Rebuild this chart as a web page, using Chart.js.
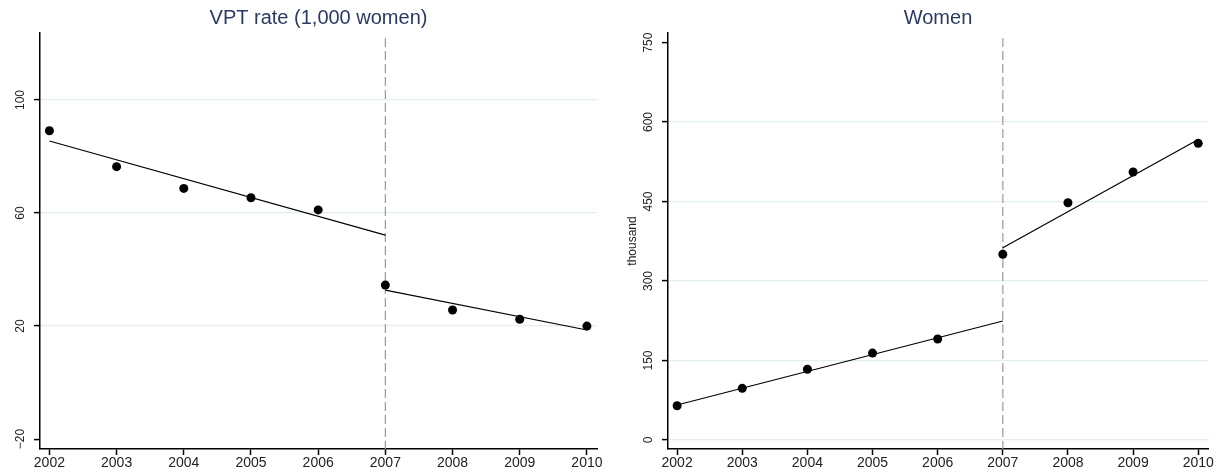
<!DOCTYPE html>
<html>
<head>
<meta charset="utf-8">
<script src="https://cdn.jsdelivr.net/npm/chart.js@4.4.1/dist/chart.umd.min.js"></script>
<style>
  body { margin: 0; background: #fff; }
  #left { position: absolute; left: 0; top: 0; }
  #right { position: absolute; left: 608px; top: 0; }
</style>
</head>
<body>
<canvas id="left" width="608" height="473"></canvas>
<canvas id="right" width="609" height="473"></canvas>
<script>
const years = [2002, 2003, 2004, 2005, 2006, 2007, 2008, 2009, 2010];
const cutoffYear = 2007;
const preYears = [2002, 2007];
const postYears = [2007, 2010];

// VPT rate per 1,000 women
const vptRate = [89.1, 76.4, 68.7, 65.4, 61.1, 34.5, 25.7, 22.4, 20.0];
const vptFitPre = [85.5, 52.2];
const vptFitPost = [32.7, 18.6];
const vptTicks = [-20, 20, 60, 100];

// women, thousand
const women = [64.7, 97.5, 133.4, 164.0, 190.6, 350.4, 447.7, 505.7, 559.8];
const womenFitPre = [66.0, 224.5];
const womenFitPost = [362.8, 567.0];
const womenTicks = [0, 150, 300, 450, 600, 750];

Chart.defaults.font.family = "'Liberation Sans', Arial, sans-serif";
Chart.defaults.color = '#222';

const gridColor = 'rgb(226, 238, 244)';

function pairs(xs, ys) {
    return xs.map((x, i) => ({x: x, y: ys[i]}));
}

// y tick labels are rotated (read bottom to top)
const rotatedYLabels = {
    id: 'rotatedYLabels',
    afterDraw(chart) {
        const s = chart.scales.y;
        const ctx = chart.ctx;
        ctx.save();
        ctx.font = "12px 'Liberation Sans', Arial, sans-serif";
        ctx.fillStyle = '#222';
        ctx.textAlign = 'center';
        ctx.textBaseline = 'middle';
        s.ticks.forEach(t => {
            ctx.save();
            ctx.translate(s.right - 19, s.getPixelForValue(t.value));
            ctx.rotate(-Math.PI / 2);
            ctx.fillText(String(t.value).replace('-', '\u2212'), 0, 0);
            ctx.restore();
        });
        ctx.restore();
    }
};

const cutoffLine = {
    id: 'cutoffLine',
    beforeDatasetsDraw(chart) {
        const x = chart.scales.x.getPixelForValue(cutoffYear);
        const area = chart.chartArea;
        const ctx = chart.ctx;
        ctx.save();
        ctx.strokeStyle = '#9a9a9a';
        ctx.lineWidth = 1.2;
        ctx.setLineDash([9, 4]);
        ctx.beginPath();
        ctx.moveTo(x, area.top + 5);
        ctx.lineTo(x, area.bottom);
        ctx.stroke();
        ctx.restore();
    }
};

function makeChart(id, opts) {
    const ctx = document.getElementById(id).getContext('2d');
    return new Chart(ctx, {
        type: 'scatter',
        data: {
            datasets: [{
                data: pairs(years, opts.values),
                backgroundColor: '#000',
                borderWidth: 0,
                pointRadius: 4.5
            }, {
                type: 'line',
                data: pairs(preYears, opts.fitPre),
                borderColor: '#000',
                borderWidth: 1.2,
                pointRadius: 0
            }, {
                type: 'line',
                data: pairs(postYears, opts.fitPost),
                borderColor: '#000',
                borderWidth: 1.2,
                pointRadius: 0
            }]
        },
        options: {
            responsive: false,
            animation: false,
            layout: {padding: opts.padding},
            plugins: {
                legend: {display: false},
                tooltip: {enabled: false},
                title: {
                    display: true,
                    text: opts.title,
                    fullSize: false,
                    color: '#2c3a63',
                    font: {size: 20, weight: 'normal'},
                    padding: {top: 6, bottom: 3}
                }
            },
            scales: {
                x: {
                    type: 'linear',
                    min: 2001.86,
                    max: 2010.15,
                    afterBuildTicks: s => { s.ticks = years.map(v => ({value: v})); },
                    afterFit: s => { s.height = 24; },
                    ticks: {
                        callback: v => String(v),
                        font: {size: 14},
                        padding: 0,
                        maxRotation: 0
                    },
                    grid: {drawOnChartArea: false, tickLength: 6, tickColor: '#000', tickWidth: 1.5},
                    border: {color: '#000', width: 1.5}
                },
                y: {
                    min: opts.yMin,
                    max: opts.yMax,
                    afterBuildTicks: s => { s.ticks = opts.ticks.map(v => ({value: v})); },
                    afterFit: s => { s.width = opts.yWidth; },
                    ticks: {display: false},
                    title: {
                        display: !!opts.yTitle,
                        text: opts.yTitle || '',
                        font: {size: 12},
                        color: '#222'
                    },
                    grid: {
                        color: c => opts.gridAt.includes(c.tick.value) ? gridColor : 'rgba(0,0,0,0)',
                        lineWidth: 1.2,
                        tickLength: 6,
                        tickColor: '#000',
                        tickWidth: 1.5
                    },
                    border: {color: '#000', width: 1.5}
                }
            }
        },
        plugins: [cutoffLine, rotatedYLabels]
    });
}

makeChart('left', {
    title: 'VPT rate (1,000 women)',
    values: vptRate,
    fitPre: vptFitPre,
    fitPost: vptFitPost,
    ticks: vptTicks,
    gridAt: [20, 60, 100],
    yMin: -23.5,
    yMax: 123.7,
    yWidth: 40,
    padding: {left: 0, right: 11, top: 0, bottom: 0}
});

makeChart('right', {
    title: 'Women',
    values: women,
    fitPre: womenFitPre,
    fitPost: womenFitPost,
    ticks: womenTicks,
    gridAt: [0, 150, 300, 450, 600],
    yMin: -17,
    yMax: 768,
    yWidth: 47,
    yTitle: 'thousand',
    padding: {left: 13, right: 9, top: 0, bottom: 0}
});
</script>
</body>
</html>
